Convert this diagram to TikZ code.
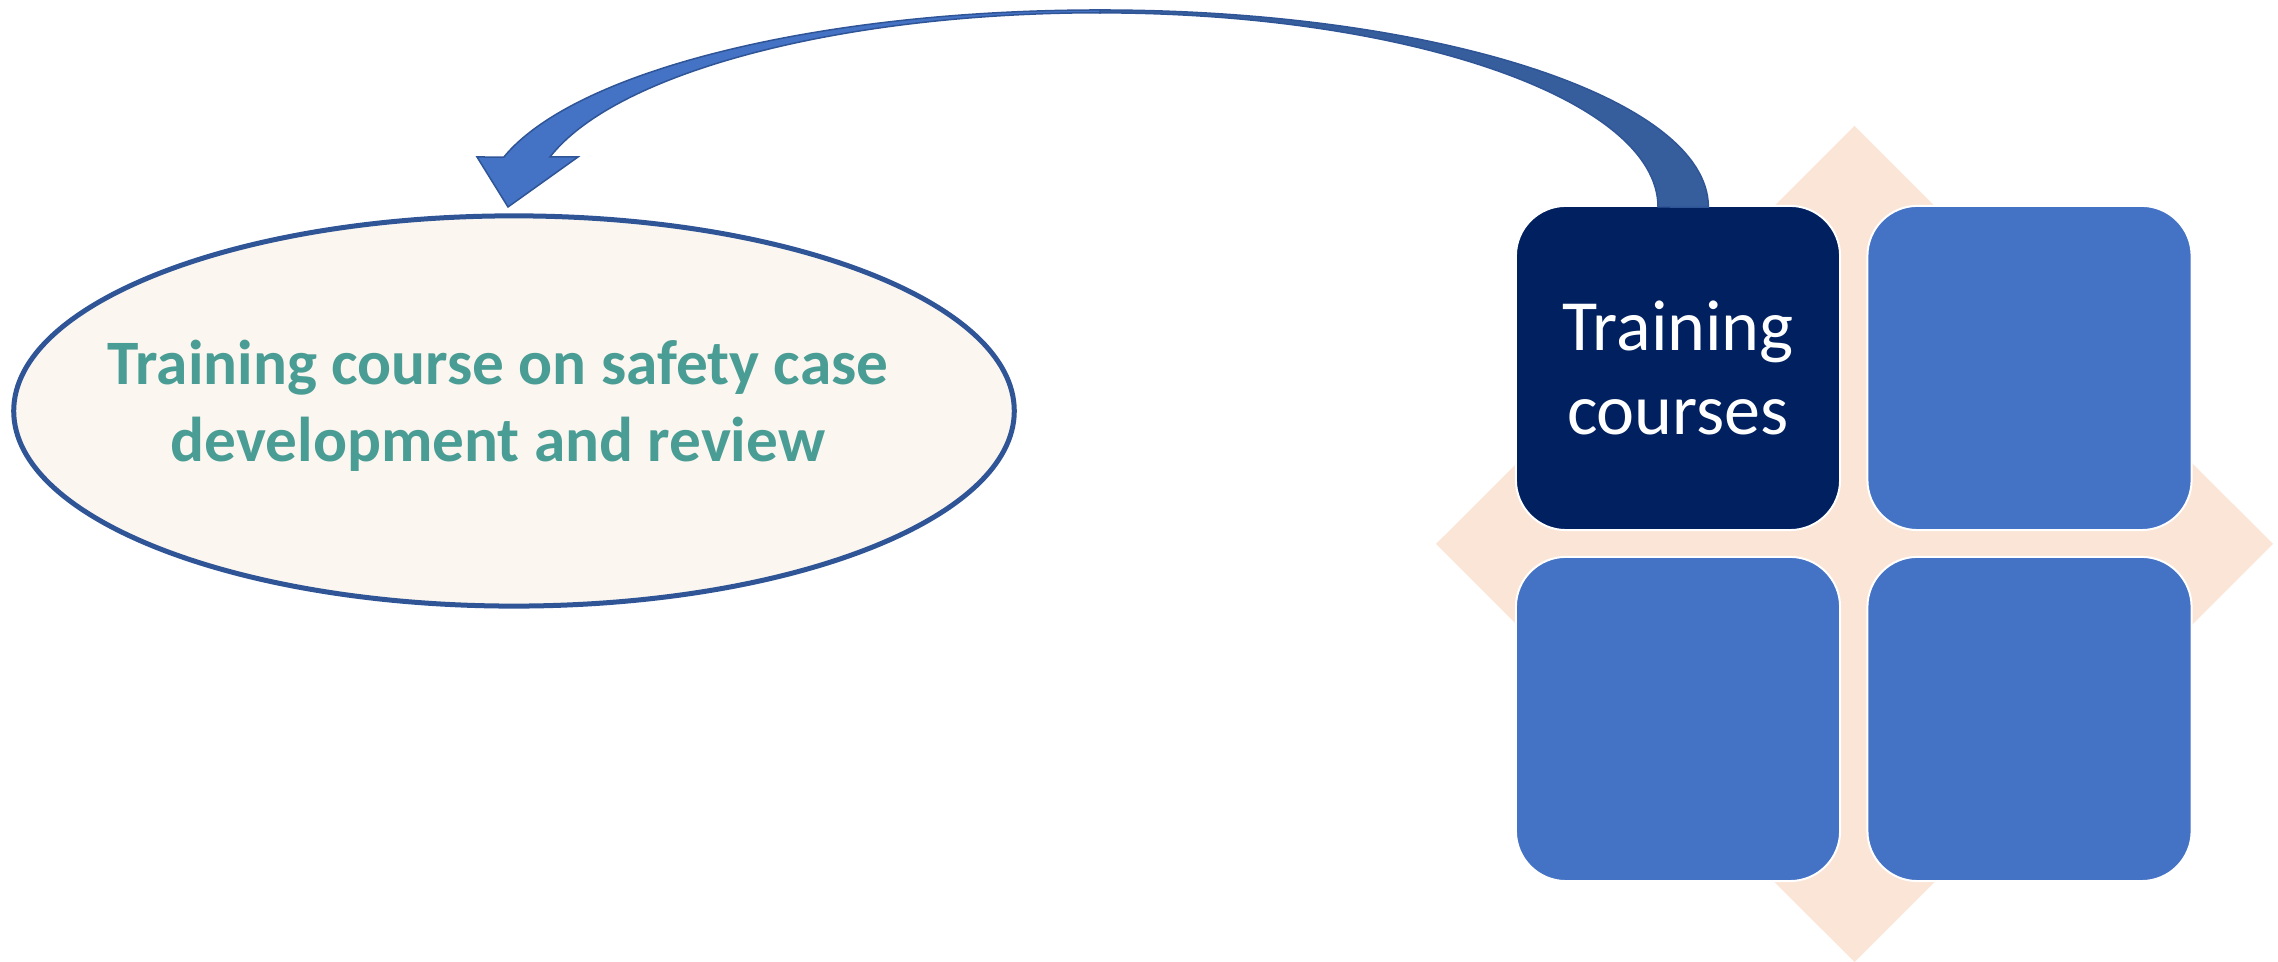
\documentclass[tikz,border=0pt]{standalone}
\usepackage{fontspec}
\setmainfont{Carlito}
\usetikzlibrary{shapes.geometric}
\definecolor{navy}{HTML}{002060}
\definecolor{midblue}{HTML}{4472C4}
\definecolor{darkarrow}{HTML}{365E9C}
\definecolor{edgeblue}{HTML}{2F5597}
\definecolor{peach}{HTML}{FBE5D6}
\definecolor{cream}{HTML}{FBF6F0}
\definecolor{teal}{HTML}{4A9D95}
\tikzset{
  quad/.style={draw=white, line width=0.02cm, rounded corners=0.5cm,
    minimum width=3.24cm, minimum height=3.24cm, inner sep=0pt},
  quadtext/.style={text=white, font=\fontsize{20.5}{24}\selectfont, align=center},
  ovaltext/.style={text=teal, font=\bfseries\fontsize{18}{22}\selectfont, inner sep=0pt, anchor=base},
  bandedge/.style={draw=edgeblue, line width=0.015cm, line join=miter}
}
\begin{document}
\begin{tikzpicture}[x=0.01cm, y=0.01cm]
\useasboundingbox (0,0) rectangle (2278,962);
% background diamond
\fill[peach] (1854.5,836) -- (2273,418) -- (1854.5,0) -- (1436,418) -- cycle;
% quadrants
\node[quad, fill=navy, quadtext] (tl) at (1678,594) {Training\\courses};
\node[quad, fill=midblue] (tr) at (2029.5,594) {};
\node[quad, fill=midblue] (bl) at (1678,243) {};
\node[quad, fill=midblue] (br) at (2029.5,243) {};
% ellipse
\node[ellipse, draw=edgeblue, fill=cream, line width=0.05cm,
      minimum width=10cm, minimum height=3.9cm, inner sep=0pt] (oval) at (514,551) {};
\node[ovaltext] (ovl1) at (498,577) {Training course on safety case};
\node[ovaltext] (ovl2) at (498,500) {development and review};
% curved block arrow from the box to the ellipse
\coordinate (tailout) at (1708,755);
\coordinate (tailin) at (1658,755);
\coordinate (topout) at (1100,952);
\filldraw[bandedge, fill=darkarrow] (topout)
  arc[start angle=90, end angle=0, x radius=6.08cm, y radius=1.97cm]
  -- (tailin)
  arc[start angle=0, end angle=90, x radius=5.58cm, y radius=1.94cm]
  -- cycle;
\filldraw[bandedge, fill=midblue] (topout)
  arc[start angle=90, end angle=165.3, x radius=6.16cm, y radius=1.97cm]
  -- (477,805) -- (508,755) -- (578,805) -- (550,805)
  arc[start angle=165.1, end angle=90, x radius=5.69cm, y radius=1.94cm]
  -- cycle;
\end{tikzpicture}
\end{document}
